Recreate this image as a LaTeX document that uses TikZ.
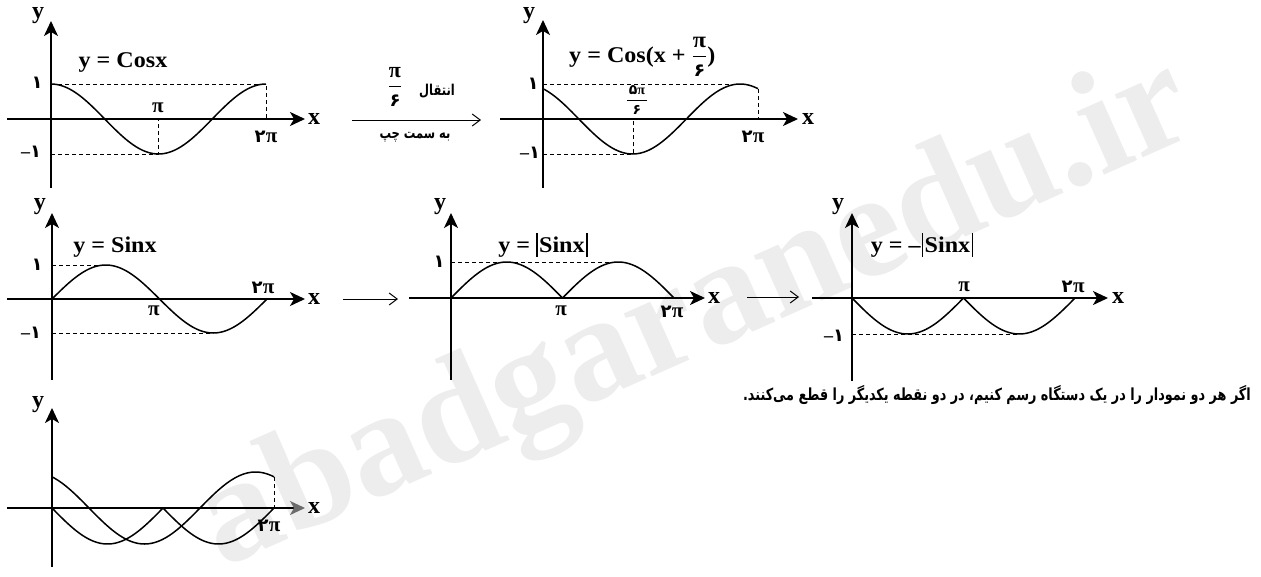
\documentclass[tikz,border=0pt]{standalone}
\usepackage{fontspec}
\usepackage{amsmath}
\setmainfont{Liberation Serif}
\newfontfamily\fa[Script=Arabic]{DejaVu Sans}
\TeXXeTstate=1
\usetikzlibrary{arrows.meta}
\newcommand{\twopi}{{\fa\fontsize{18}{20}\selectfont ۲}\kern0.5pt π}
\newcommand{\absbar}{\rule[-5pt]{1.3pt}{24pt}}
\newcommand{\negone}{{\rmfamily\bfseries –}۱}
\newcommand{\tallfa}[1]{\scalebox{1}[1.3]{#1}}
\newcommand{\widelat}[1]{\scalebox{1.07}[1]{#1}}
\tikzset{
 axis/.style={line width=1.6pt, -{Stealth[length=15pt,width=14pt,inset=4pt]}},
 curve/.style={line width=1.5pt, line join=round},
 guide/.style={line width=0.8pt, dash pattern=on 4pt off 3pt},
 trans/.style={line width=1pt, -{Straight Barb[length=8pt,width=12pt,line width=1pt]}},
 lab/.style={font=\fontsize{22.5}{24}\selectfont\bfseries, inner sep=0pt},
 axl/.style={font=\fontsize{24}{26}\selectfont\bfseries, inner sep=0pt},
 num/.style={font=\fa\fontsize{18}{20}\selectfont\bfseries, inner sep=0pt},
 pil/.style={font=\fontsize{21}{23}\selectfont\bfseries, inner sep=0pt},
 fasmall/.style={font=\fa\fontsize{11.5}{14}\selectfont\bfseries, inner sep=0pt},
}
\begin{document}
\begin{tikzpicture}[x=1pt,y=-1pt]
\useasboundingbox (0,0) rectangle (1261,576);
% watermark
\node[rotate=24, text=black!7, font=\fontsize{150}{150}\selectfont\bfseries, inner sep=0pt] (wm) at (697,318) {abadgaranedu.ir};

% ---------- plot 1 : cos x
\draw[axis] (7,119) -- (305,119);
\draw[axis] (51,188) -- (51,21);
\draw[guide] (51,84) -- (266,84) -- (266,119);
\draw[guide] (51,154) -- (158,154) -- (158,119);
\draw[curve] plot[domain=0:360, samples=90, smooth] ({51+\x/360*215},{119-35*cos(\x)});
\node[axl] (y1) at (38,16) {y};
\node[axl] (x1) at (314,119) {x};
\node[lab] (f1) at (123,62) {\widelat{y = Cosx}};
\node[num] (o1) at (37,83) {۱};
\node[num] (m1) at (31,152) {\negone};
\node[pil] (p1) at (158,108) {π};
\node[pil] (q1) at (266,137) {\twopi};

% ---------- transition arrow 1
\coordinate (ta) at (352,120);
\coordinate (tb) at (481,120);
\draw[trans] (ta) -- (tb);
\node[font=\fontsize{22}{24}\selectfont\bfseries, inner sep=0pt] (tf) at (395,87) {$\genfrac{}{}{1.3pt}{0}{\text{π}}{\text{\fa\fontsize{18}{20}\selectfont ۶}}$};
\node[fasmall] (tt) at (437,91) {\tallfa{\beginR انتقال\endR}};
\node[fasmall] (tl) at (415,137) {\tallfa{\beginR به سمت چپ\endR}};

% ---------- plot 2 : cos(x+pi/6)
\draw[axis] (500,119) -- (798,119);
\draw[axis] (543,188) -- (543,20);
\draw[guide] (543,84) -- (740,84);
\draw[guide] (758,89) -- (758,119);
\draw[guide] (543,154) -- (633,154) -- (633,119);
\draw[curve] plot[domain=0:360, samples=90, smooth] ({543+\x/360*215},{119-35*cos(\x+30)});
\node[axl] (y2) at (529,16) {y};
\node[axl] (x2) at (808,119) {x};
\node[lab, anchor=base west] (f2) at (569,62) {\widelat{y = Cos(x + $\genfrac{}{}{1.3pt}{0}{\text{π}}{\text{\fa\fontsize{18}{20}\selectfont ۶}}$)}};
\node[num] (o2) at (533,84) {۱};
\node[num] (m2) at (530,153) {\negone};
\node[font=\fontsize{14}{16}\selectfont\bfseries, inner sep=0pt] (p2) at (637,100) {$\genfrac{}{}{1pt}{0}{\text{\kern2pt{\fa ۵}π\kern2pt}}{\text{\fa ۶}}$};
\node[pil] (q2) at (753,137) {\twopi};

% ---------- plot 3 : sin x
\draw[axis] (7,299) -- (305,299);
\draw[axis] (52,380) -- (52,213);
\draw[guide] (52,265) -- (106,265);
\draw[guide] (52,333) -- (213,333);
\draw[curve] plot[domain=0:360, samples=90, smooth] ({52+\x/360*215},{299-34*sin(\x)});
\node[axl] (y3) at (40,207) {y};
\node[axl] (x3) at (314,299) {x};
\node[lab] (f3) at (115,247) {\widelat{y = Sinx}};
\node[num] (o3) at (37,265) {۱};
\node[num] (m3) at (31,333) {\negone};
\node[pil] (p3) at (154,311) {π};
\node[pil] (q3) at (263,288) {\twopi};

% ---------- transition arrow 2
\coordinate (tc) at (343,299);
\coordinate (td) at (398,299);
\draw[trans] (tc) -- (td);

% ---------- plot 4 : |sin x|
\draw[axis] (409,298) -- (705,298);
\draw[axis] (451,380) -- (451,213);
\draw[guide] (451,262) -- (618,262);
\draw[curve] plot[domain=0:180, samples=60, smooth] ({451+\x/360*223},{298-36*sin(\x)});
\draw[curve] plot[domain=180:360, samples=60, smooth] ({451+\x/360*223},{298+36*sin(\x)});
\node[axl] (y4) at (440,207) {y};
\node[axl] (x4) at (714,298) {x};
\node[lab] (f4) at (543,245) {\widelat{y = \absbar\kern1.5pt Sinx\kern1.5pt\absbar}};
\node[num] (o4) at (439,262) {۱};
\node[pil] (p4) at (561,311) {π};
\node[pil] (q4) at (672,312) {\twopi};

% ---------- transition arrow 3
\coordinate (te) at (747,297);
\coordinate (tf2) at (799,297);
\draw[trans] (te) -- (tf2);

% ---------- plot 5 : -|sin x|
\draw[axis] (812,298) -- (1108,298);
\draw[axis] (852,381) -- (852,213);
\draw[guide] (852,334) -- (1019,334);
\draw[curve] plot[domain=0:180, samples=60, smooth] ({852+\x/360*223},{298+36*sin(\x)});
\draw[curve] plot[domain=180:360, samples=60, smooth] ({852+\x/360*223},{298-36*sin(\x)});
\node[axl] (y5) at (838,207) {y};
\node[axl] (x5) at (1118,298) {x};
\node[lab] (f5) at (922,245) {\widelat{y = –\kern1pt\absbar\kern1.5pt Sinx\kern1.5pt\absbar}};
\node[num] (m5) at (834,336) {\negone};
\node[pil] (p5) at (964,287) {π};
\node[pil] (q5) at (1073,287) {\twopi};

% ---------- note
\node[anchor=east, font=\fa\fontsize{12.8}{16}\selectfont\bfseries, inner sep=0pt] (note) at (1251,395) {\tallfa{\beginR اگر هر دو نمودار را در یک دستگاه رسم کنیم، در دو نقطه یکدیگر را قطع می‌کنند.\endR}};

% ---------- plot 6 : both
\draw[line width=1.6pt, -{Stealth[length=15pt,width=14pt,inset=4pt,color=gray!85!black]}] (7,508) -- (305,508);
\draw[axis] (52,567) -- (52,408);
\draw[guide] (274,477) -- (274,508);
\draw[curve] plot[domain=0:360, samples=90, smooth] ({52+\x/360*222},{508-36*cos(\x+30)});
\draw[curve] plot[domain=0:180, samples=60, smooth] ({52+\x/360*222},{508+36*sin(\x)});
\draw[curve] plot[domain=180:360, samples=60, smooth] ({52+\x/360*222},{508-36*sin(\x)});
\node[axl] (y6) at (38,405) {y};
\node[axl] (x6) at (314,508) {x};
\node[pil] (q6) at (269,526) {\twopi};
\end{tikzpicture}
\end{document}
